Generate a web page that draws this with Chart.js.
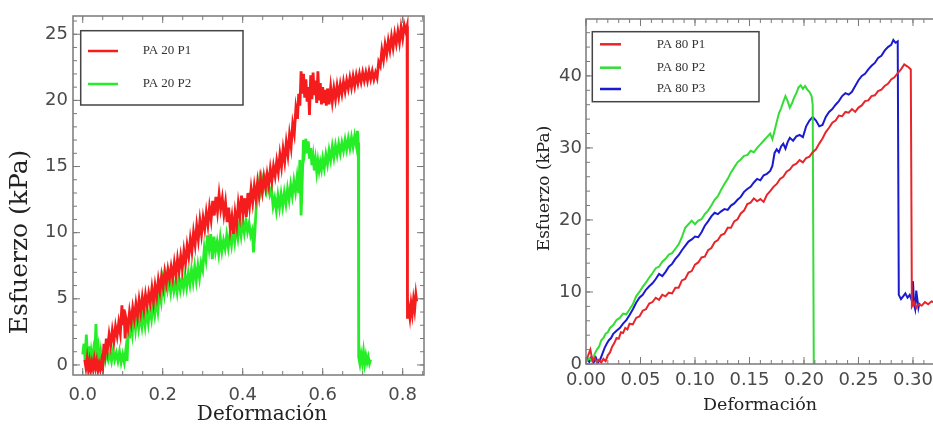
<!DOCTYPE html>
<html>
<head>
<meta charset="utf-8">
<script src="https://cdn.jsdelivr.net/npm/chart.js@4.4.1/dist/chart.umd.min.js"></script>
<style>
html,body{margin:0;padding:0;background:#fff;overflow:hidden;width:933px;height:425px;}
#c1{position:absolute;left:0;top:0;}
#c2{position:absolute;left:500px;top:0;}
</style>
</head>
<body>
<canvas id="c1" width="440" height="425"></canvas>
<canvas id="c2" width="470" height="425"></canvas>
<script>
// ---------- DATA (strain, stress kPa) ----------
const leftLabels = ['PA 20 P1', 'PA 20 P2'];
const rightLabels = ['PA 80 P1', 'PA 80 P2', 'PA 80 P3'];
const leftXTicks = [0, 0.2, 0.4, 0.6, 0.8];
const leftYTicks = [0, 5, 10, 15, 20, 25];
const rightXTicks = [0, 0.05, 0.10, 0.15, 0.20, 0.25, 0.30];
const rightYTicks = [0, 10, 20, 30, 40];

const pa20p1 = [[0.005,0.4],[0.008,-0.2],[0.011,0.5],[0.014,-0.3],[0.017,0.3],[0.020,-0.4],[0.023,0.2],[0.026,-0.3],[0.029,0.4],[0.032,-0.2],[0.035,0.3],[0.038,-0.4],[0.041,0.1],[0.044,-0.3],[0.047,0.3],[0.050,-0.2],
[0.053,1.6],[0.056,0.9],[0.059,2.0],[0.062,1.2],[0.066,2.3],[0.070,1.5],[0.074,2.6],[0.078,1.8],[0.082,2.9],[0.086,2.2],[0.090,3.2],[0.094,2.4],[0.098,4.5],[0.100,3.0],[0.103,4.2],[0.106,2.0],[0.109,3.4],[0.113,2.8],[0.117,4.0],[0.121,3.2],[0.125,4.3],[0.129,3.5],[0.133,4.6],[0.137,3.7],[0.141,4.9],[0.145,4.0],[0.149,5.1],[0.153,4.2],[0.157,5.3],[0.161,4.5],[0.165,5.4],[0.169,4.7],[0.173,5.8],[0.177,4.8],[0.181,6.0],[0.185,5.2],[0.189,6.4],[0.193,5.6],[0.197,6.7],[0.201,5.9],[0.205,7.0],[0.209,6.2],[0.213,7.2],[0.217,6.5],[0.221,7.4],[0.225,6.6],[0.229,7.7],[0.233,6.8],[0.237,8.0],[0.241,7.1],[0.245,8.2],[0.249,7.3],[0.253,8.6],[0.257,7.7],[0.261,9.0],[0.265,8.2],[0.269,9.5],[0.273,8.6],[0.277,10.0],[0.281,9.1],[0.285,10.5],[0.289,9.5],[0.293,10.9],[0.297,9.9],[0.301,11.1],[0.305,10.3],[0.309,11.5],[0.313,10.6],[0.317,11.9],[0.321,11.0],[0.325,12.4],[0.329,11.3],[0.333,12.7],[0.337,11.6],[0.341,12.9],[0.345,11.8],[0.349,12.6],[0.353,11.4],[0.357,12.3],[0.361,10.8],[0.365,11.9],[0.369,10.3],[0.373,11.2],[0.377,9.9],[0.381,11.5],[0.385,10.6],[0.389,12.2],[0.393,11.3],[0.397,12.8],[0.401,11.5],[0.405,12.6],[0.409,11.2],[0.413,13.0],[0.417,12.0],[0.421,13.3],[0.425,12.3],[0.429,13.5],[0.433,12.6],[0.437,13.8],[0.441,12.8],[0.445,14.0],[0.449,13.1],[0.453,14.2],[0.457,13.4],[0.461,14.4],[0.465,13.6],[0.469,14.8],[0.473,13.9],[0.477,15.0],[0.481,14.3],[0.485,15.4],[0.489,14.6],[0.493,15.9],[0.497,15.0],[0.501,16.3],[0.505,15.4],[0.509,16.8],[0.513,15.9],[0.517,17.4],[0.521,16.5],[0.525,18.2],[0.529,17.5],[0.533,19.4],[0.537,18.6],[0.540,20.5],[0.543,19.6],[0.546,22.2],[0.549,20.5],[0.552,22.0],[0.555,20.2],[0.558,21.6],[0.561,19.9],[0.564,21.0],[0.567,18.9],[0.570,21.9],[0.573,20.1],[0.576,22.1],[0.579,20.4],[0.582,21.5],[0.585,19.8],[0.588,22.2],[0.591,20.0],[0.594,21.3],[0.597,19.7],[0.600,21.0],[0.603,19.8],[0.606,20.8],[0.609,19.6],[0.612,20.9],[0.616,19.7],[0.620,21.0],[0.624,19.9],[0.628,20.9],[0.632,20.1],[0.636,21.1],[0.640,20.3],[0.644,21.2],[0.648,20.5],[0.652,21.4],[0.656,20.7],[0.660,21.5],[0.664,20.9],[0.668,21.7],[0.672,21.0],[0.676,21.8],[0.680,21.1],[0.684,21.9],[0.688,21.3],[0.692,22.0],[0.696,21.4],[0.700,22.1],[0.704,21.5],[0.708,22.1],[0.712,21.5],[0.716,22.2],[0.720,21.6],[0.724,22.2],[0.728,21.6],[0.732,22.1],[0.736,21.7],[0.740,22.9],[0.744,22.6],[0.748,23.8],[0.752,23.1],[0.756,24.2],[0.760,23.5],[0.764,24.5],[0.768,23.8],[0.772,24.8],[0.776,24.0],[0.780,25.0],[0.784,24.3],[0.788,25.2],[0.792,24.4],[0.796,25.5],[0.800,24.7],[0.804,25.7],[0.808,25.2],[0.811,25.6],
[0.812,3.5],[0.815,4.3],[0.818,3.6],[0.821,4.6],[0.824,3.9],[0.827,4.9],[0.830,4.2],[0.833,5.3],[0.835,4.8]];

const pa20p2 = [[0.000,0.8],[0.003,1.6],[0.006,0.4],[0.009,2.3],[0.012,0.6],[0.015,1.4],[0.018,0.2],[0.021,1.0],[0.024,0.3],[0.027,1.1],[0.030,0.4],[0.033,3.1],[0.036,0.6],[0.039,1.3],[0.042,0.3],[0.045,1.0],[0.048,0.2],[0.052,0.9],[0.056,0.3],[0.060,1.0],[0.064,0.4],[0.068,0.9],[0.072,0.3],[0.076,1.1],[0.080,0.4],[0.084,0.9],[0.088,0.3],[0.092,1.0],[0.096,0.2],[0.100,0.8],[0.104,0.2],[0.108,1.2],[0.111,0.3],
[0.114,2.8],[0.117,2.0],[0.120,3.4],[0.124,2.4],[0.128,3.8],[0.132,2.7],[0.136,3.9],[0.140,2.8],[0.144,3.7],[0.148,2.9],[0.152,4.0],[0.156,3.0],[0.160,4.2],[0.164,3.2],[0.168,4.3],[0.172,3.5],[0.176,4.6],[0.180,3.8],[0.184,5.0],[0.188,4.1],[0.192,5.5],[0.196,4.8],[0.200,6.3],[0.204,5.4],[0.208,6.6],[0.212,5.7],[0.216,6.4],[0.220,5.5],[0.224,6.5],[0.228,5.6],[0.232,6.3],[0.236,5.5],[0.240,6.6],[0.244,5.7],[0.248,6.5],[0.252,5.8],[0.256,6.8],[0.260,5.9],[0.264,6.9],[0.268,6.1],[0.272,7.2],[0.276,6.3],[0.280,7.4],[0.284,6.4],[0.288,7.5],[0.292,6.6],[0.296,7.7],[0.300,7.2],[0.304,8.8],[0.308,8.0],[0.312,9.8],[0.316,8.8],[0.320,9.9],[0.324,8.0],[0.328,9.7],[0.332,8.6],[0.336,9.3],[0.340,8.4],[0.344,9.6],[0.348,8.6],[0.352,9.4],[0.356,8.8],[0.360,9.8],[0.364,8.9],[0.368,9.9],[0.372,9.1],[0.376,10.2],[0.380,9.3],[0.384,10.4],[0.388,9.6],[0.392,10.7],[0.396,9.8],[0.400,10.9],[0.404,10.0],[0.408,10.9],[0.412,10.1],[0.416,10.7],[0.420,9.8],[0.424,10.2],[0.427,8.5],[0.430,9.8],[0.433,11.5],[0.436,12.8],[0.439,13.2],[0.442,14.0],[0.445,13.3],[0.448,14.1],[0.452,13.4],[0.456,14.0],[0.460,13.2],[0.464,13.9],[0.468,12.9],[0.472,13.3],[0.476,12.0],[0.480,12.6],[0.484,11.7],[0.488,12.8],[0.492,11.9],[0.496,12.9],[0.500,12.0],[0.504,13.0],[0.508,12.2],[0.512,13.3],[0.516,12.5],[0.520,13.6],[0.524,12.8],[0.528,13.9],[0.532,13.1],[0.536,14.2],[0.540,13.0],[0.543,15.5],[0.546,11.3],[0.549,14.0],[0.552,17.0],[0.555,16.2],[0.558,17.1],[0.561,16.0],[0.564,16.9],[0.567,15.6],[0.570,16.4],[0.573,15.1],[0.576,15.8],[0.579,14.7],[0.582,15.5],[0.585,14.6],[0.588,15.4],[0.591,14.7],[0.594,15.3],[0.597,14.8],[0.600,15.6],[0.604,14.9],[0.608,15.9],[0.612,15.2],[0.616,16.2],[0.620,15.5],[0.624,16.5],[0.628,15.7],[0.632,16.6],[0.636,15.9],[0.640,16.7],[0.644,16.0],[0.648,16.8],[0.652,16.2],[0.656,17.0],[0.660,16.3],[0.664,17.1],[0.668,16.4],[0.672,17.2],[0.676,16.5],[0.680,17.3],[0.684,16.6],[0.687,17.7],[0.689,16.8],
[0.690,0.6],[0.693,0.1],[0.696,0.8],[0.699,0.2],[0.702,1.0],[0.705,0.1],[0.708,0.7],[0.711,0.2],[0.714,0.6],[0.717,0.1],[0.720,0.4]];

const pa80p1 = [[0.000,0.5],[0.002,1.2],[0.004,2.0],[0.006,0.4],[0.008,0.8],[0.010,0.2],[0.012,0.6],[0.014,0.2],[0.016,0.7],[0.018,0.4],[0.020,1.2],[0.022,1.6],[0.024,2.4],[0.026,2.9],[0.028,3.6],[0.030,3.5],[0.032,4.4],[0.034,4.3],[0.036,5.0],[0.038,4.8],[0.040,5.6],[0.043,5.5],[0.046,6.4],[0.049,6.6],[0.052,7.4],[0.055,7.6],[0.058,8.4],[0.061,8.6],[0.064,9.2],[0.067,8.9],[0.070,9.6],[0.073,9.4],[0.076,9.9],[0.079,9.8],[0.082,10.6],[0.085,10.6],[0.088,11.6],[0.091,11.8],[0.094,12.7],[0.097,12.9],[0.100,13.8],[0.103,14.1],[0.106,14.8],[0.109,14.9],[0.112,15.8],[0.115,16.1],[0.118,16.9],[0.121,17.2],[0.124,17.9],[0.127,18.1],[0.130,18.9],[0.133,18.9],[0.136,19.8],[0.139,20.1],[0.142,20.9],[0.145,21.3],[0.148,22.2],[0.151,22.4],[0.154,23.0],[0.157,22.6],[0.160,22.9],[0.163,22.5],[0.166,23.5],[0.169,24.0],[0.172,24.6],[0.175,25.0],[0.178,25.7],[0.181,26.0],[0.184,26.7],[0.187,27.0],[0.190,27.6],[0.193,27.8],[0.196,28.3],[0.199,28.0],[0.202,28.6],[0.205,28.8],[0.208,29.4],[0.211,29.8],[0.214,30.6],[0.217,31.3],[0.220,32.2],[0.223,32.8],[0.226,33.5],[0.229,33.8],[0.232,34.5],[0.235,34.4],[0.238,35.0],[0.241,34.9],[0.244,35.4],[0.247,35.0],[0.250,35.6],[0.253,35.9],[0.256,36.5],[0.259,36.6],[0.262,37.2],[0.265,37.3],[0.268,37.9],[0.271,38.1],[0.274,38.6],[0.277,38.9],[0.280,39.5],[0.283,39.8],[0.286,40.4],[0.289,40.9],[0.292,41.6],[0.294,41.4],[0.296,41.2],[0.298,40.9],
[0.299,8.0],[0.301,8.6],[0.303,7.8],[0.305,8.3],[0.308,8.1],[0.311,8.6],[0.314,8.3],[0.317,8.7],[0.320,8.5],[0.324,8.8],[0.328,8.6]];

const pa80p2 = [[0.000,0.3],[0.003,0.8],[0.006,0.4],[0.008,1.4],[0.010,2.0],[0.012,2.4],[0.014,3.3],[0.016,3.6],[0.018,4.2],[0.020,4.4],[0.022,5.0],[0.025,5.4],[0.028,6.1],[0.031,6.4],[0.034,7.0],[0.037,6.9],[0.040,7.6],[0.043,8.3],[0.046,9.4],[0.049,10.0],[0.052,10.7],[0.055,11.3],[0.058,12.0],[0.061,12.6],[0.064,13.3],[0.067,13.5],[0.070,14.2],[0.073,14.6],[0.076,15.2],[0.079,15.4],[0.082,16.0],[0.085,16.6],[0.088,17.6],[0.091,18.9],[0.094,19.4],[0.097,19.9],[0.100,19.4],[0.103,19.9],[0.106,20.1],[0.109,20.8],[0.112,21.3],[0.115,22.0],[0.118,22.8],[0.121,23.3],[0.124,24.2],[0.127,25.0],[0.130,25.7],[0.133,26.6],[0.136,27.3],[0.139,28.0],[0.142,28.4],[0.145,28.9],[0.148,29.0],[0.151,29.6],[0.154,29.4],[0.157,30.0],[0.160,30.5],[0.163,31.0],[0.166,31.5],[0.169,32.0],[0.171,31.2],[0.173,32.4],[0.175,33.6],[0.177,34.8],[0.179,35.5],[0.181,36.4],[0.183,37.2],[0.185,36.5],[0.187,35.6],[0.189,36.2],[0.191,37.0],[0.193,37.6],[0.195,38.4],[0.197,38.7],[0.199,38.2],[0.201,38.6],[0.203,38.1],[0.205,37.8],[0.207,37.2],[0.208,36.0],[0.209,0.0]];

const pa80p3 = [[0.000,0.8],[0.003,0.3],[0.005,1.0],[0.007,0.2],[0.009,0.9],[0.011,0.2],[0.013,0.6],[0.015,1.4],[0.017,2.2],[0.019,2.8],[0.021,3.3],[0.023,3.6],[0.025,4.2],[0.028,4.6],[0.031,5.0],[0.034,5.6],[0.037,6.1],[0.040,6.8],[0.043,7.6],[0.046,8.5],[0.049,9.2],[0.052,9.6],[0.055,10.3],[0.058,10.8],[0.061,11.2],[0.064,11.8],[0.067,12.5],[0.070,12.2],[0.073,12.8],[0.076,13.5],[0.079,13.9],[0.082,14.6],[0.085,15.1],[0.088,15.8],[0.091,16.4],[0.094,17.0],[0.097,17.3],[0.100,17.7],[0.103,17.6],[0.106,18.3],[0.109,19.2],[0.112,19.8],[0.115,20.5],[0.118,21.0],[0.121,20.8],[0.124,21.2],[0.127,21.5],[0.130,21.4],[0.133,22.0],[0.136,22.3],[0.139,22.8],[0.142,23.2],[0.145,23.9],[0.148,24.3],[0.151,24.6],[0.154,25.2],[0.157,25.7],[0.160,25.5],[0.163,26.2],[0.166,26.4],[0.169,26.8],[0.171,27.5],[0.173,29.3],[0.175,29.8],[0.177,29.4],[0.179,30.2],[0.181,30.6],[0.183,29.9],[0.185,30.8],[0.187,31.4],[0.190,31.0],[0.193,31.6],[0.196,31.8],[0.199,31.5],[0.202,33.0],[0.205,33.8],[0.208,34.3],[0.211,33.8],[0.214,33.0],[0.217,33.2],[0.220,34.3],[0.223,35.0],[0.226,35.4],[0.229,36.0],[0.232,36.5],[0.235,37.2],[0.238,37.6],[0.241,37.4],[0.244,37.8],[0.247,38.6],[0.250,39.4],[0.253,40.0],[0.256,40.3],[0.259,40.9],[0.262,41.4],[0.265,41.8],[0.268,42.5],[0.271,42.8],[0.274,43.5],[0.277,44.0],[0.280,44.3],[0.282,45.0],[0.284,44.6],[0.286,44.8],
[0.287,9.6],[0.289,9.0],[0.291,9.4],[0.293,9.8],[0.295,9.2],[0.297,9.6],[0.299,8.8],[0.300,11.5],[0.301,8.2],[0.302,7.6],[0.303,10.2],[0.304,9.0],[0.305,7.8],[0.306,8.5]];

// ---------- helpers ----------
const toXY = arr => arr.map(p => ({x: p[0], y: p[1]}));

const framePlugin = {
  id: 'frame',
  afterDatasetsDraw(chart, args, o) {
    const {ctx, chartArea: a, scales: {x, y}} = chart;
    ctx.save();
    ctx.strokeStyle = o.color; ctx.lineWidth = o.width;
    ctx.strokeRect(a.left, a.top, a.right - a.left, a.bottom - a.top);
    ctx.lineWidth = 1;
    const drawX = (v, len) => {
      const px = x.getPixelForValue(v);
      if (px < a.left || px > a.right) return;
      ctx.beginPath();
      ctx.moveTo(px, a.bottom); ctx.lineTo(px, a.bottom - len);
      ctx.moveTo(px, a.top); ctx.lineTo(px, a.top + len);
      ctx.stroke();
    };
    const drawY = (v, len) => {
      const py = y.getPixelForValue(v);
      if (py < a.top || py > a.bottom) return;
      ctx.beginPath();
      ctx.moveTo(a.left, py); ctx.lineTo(a.left + len, py);
      ctx.moveTo(a.right, py); ctx.lineTo(a.right - len, py);
      ctx.stroke();
    };
    for (let i = 0; i * o.xMinor <= x.max + 1e-9; i++) drawX(i * o.xMinor, o.minorLen);
    for (let i = 0; i * o.xMajor <= x.max + 1e-9; i++) drawX(i * o.xMajor, o.majorLen);
    for (let i = 0; i * o.yMinor <= y.max + 1e-9; i++) drawY(i * o.yMinor, o.minorLen);
    for (let i = 0; i * o.yMajor <= y.max + 1e-9; i++) drawY(i * o.yMajor, o.majorLen);
    ctx.restore();
  }
};

const boxLegendPlugin = {
  id: 'boxLegend',
  afterDraw(chart, args, o) {
    const ctx = chart.ctx;
    ctx.save();
    ctx.fillStyle = '#fff';
    ctx.fillRect(o.box[0], o.box[1], o.box[2], o.box[3]);
    ctx.strokeStyle = o.border; ctx.lineWidth = 1.5;
    ctx.strokeRect(o.box[0], o.box[1], o.box[2], o.box[3]);
    ctx.font = o.font; ctx.textBaseline = 'middle'; ctx.textAlign = 'left';
    chart.data.datasets.forEach((ds, i) => {
      const yy = o.rows[i];
      ctx.strokeStyle = ds.borderColor; ctx.lineWidth = 2.5;
      ctx.beginPath(); ctx.moveTo(o.line[0], yy); ctx.lineTo(o.line[1], yy); ctx.stroke();
      ctx.fillStyle = o.textColor;
      ctx.fillText(ds.label, o.textX, yy);
    });
    ctx.restore();
  }
};

const axisTitlePlugin = {
  id: 'axisTitles',
  afterDraw(chart, args, o) {
    const ctx = chart.ctx;
    ctx.save();
    ctx.fillStyle = o.color; ctx.textAlign = 'center'; ctx.textBaseline = 'middle';
    ctx.font = o.xFont;
    ctx.fillText(o.xText, o.xPos[0], o.xPos[1]);
    ctx.translate(o.yPos[0], o.yPos[1]);
    ctx.rotate(-Math.PI / 2);
    ctx.font = o.yFont;
    ctx.fillText(o.yText, 0, 0);
    ctx.restore();
  }
};

function makeChart(id, cfg) {
  return new Chart(document.getElementById(id), {
    type: 'line',
    data: {datasets: cfg.datasets},
    options: {
      responsive: false, animation: false,
      layout: {padding: cfg.padding},
      elements: {point: {radius: 0}, line: {tension: 0}},
      plugins: {
        legend: {display: false}, tooltip: {enabled: false},
        frame: cfg.frame, boxLegend: cfg.legend, axisTitles: cfg.titles
      },
      scales: {
        x: {
          type: 'linear', min: cfg.xMin, max: cfg.xMax,
          grid: {display: false, drawTicks: false}, border: {display: false},
          afterBuildTicks: s => { s.ticks = cfg.xTicks.map(v => ({value: v})); },
          afterFit: s => { s.height = cfg.xHeight; },
          ticks: {font: {family: 'DejaVu Sans', size: cfg.xTickSize}, color: '#4a4a4a', padding: cfg.xPad,
                  maxRotation: 0, autoSkip: false, callback: v => Number(v).toFixed(cfg.xDec)}
        },
        y: {
          type: 'linear', min: cfg.yMin, max: cfg.yMax,
          grid: {display: false, drawTicks: false}, border: {display: false},
          afterBuildTicks: s => { s.ticks = cfg.yTicks.map(v => ({value: v})); },
          afterFit: s => { s.width = cfg.yWidth; },
          ticks: {font: {family: 'DejaVu Sans', size: 18}, color: '#4a4a4a', padding: cfg.yPad,
                  autoSkip: false, callback: v => String(v)}
        }
      }
    },
    plugins: [framePlugin, boxLegendPlugin, axisTitlePlugin]
  });
}

makeChart('c1', {
  datasets: [
    {label: leftLabels[0], data: toXY(pa20p1), borderColor: '#f41c1c', borderWidth: 2.8},
    {label: leftLabels[1], data: toXY(pa20p2), borderColor: '#26ee26', borderWidth: 2.8}
  ],
  padding: {top: 16, right: 16, bottom: 0, left: 0},
  xMin: -0.0243, xMax: 0.8533, yMin: -0.76, yMax: 26.38,
  xTicks: leftXTicks, yTicks: leftYTicks, xDec: 1, xTickSize: 18,
  xHeight: 50, yWidth: 73, xPad: 10, yPad: 5,
  frame: {color: '#7a7a7a', width: 1.5, xMinor: 0.05, xMajor: 0.2, yMinor: 1, yMajor: 5, minorLen: 4, majorLen: 7},
  legend: {box: [80.7, 30.7, 162.3, 74.3], border: '#444', rows: [51, 84], line: [88, 118], textX: 142.7,
           font: '13px "Liberation Serif"', textColor: '#333'},
  titles: {color: '#222', xText: 'Deformación', xFont: '20px "DejaVu Serif"', xPos: [262, 415],
           yText: 'Esfuerzo (kPa)', yFont: '25px "DejaVu Serif"', yPos: [20, 242]}
});

makeChart('c2', {
  datasets: [
    {label: rightLabels[0], data: toXY(pa80p1), borderColor: '#e6262a', borderWidth: 2},
    {label: rightLabels[1], data: toXY(pa80p2), borderColor: '#36dc36', borderWidth: 2},
    {label: rightLabels[2], data: toXY(pa80p3), borderColor: '#1a1ad0', borderWidth: 2}
  ],
  padding: {top: 19, right: 24, bottom: 0, left: 0},
  xMin: 0, xMax: 0.3303, yMin: 0, yMax: 47.9,
  xTicks: rightXTicks, yTicks: rightYTicks, xDec: 2, xTickSize: 18,
  xHeight: 61, yWidth: 86, xPad: 6, yPad: 4,
  frame: {color: '#7a7a7a', width: 1.5, xMinor: 0.01, xMajor: 0.05, yMinor: 2, yMajor: 10, minorLen: 4, majorLen: 7},
  legend: {box: [92.3, 31.7, 166.7, 70], border: '#444', rows: [44.3, 67.7, 89], line: [100, 121], textX: 156.7,
           font: '13px "Liberation Serif"', textColor: '#333'},
  titles: {color: '#222', xText: 'Deformación', xFont: '17.5px "DejaVu Serif"', xPos: [260, 405],
           yText: 'Esfuerzo (kPa)', yFont: '17px "DejaVu Serif"', yPos: [44.7, 188.5]}
});
</script>
</body>
</html>
